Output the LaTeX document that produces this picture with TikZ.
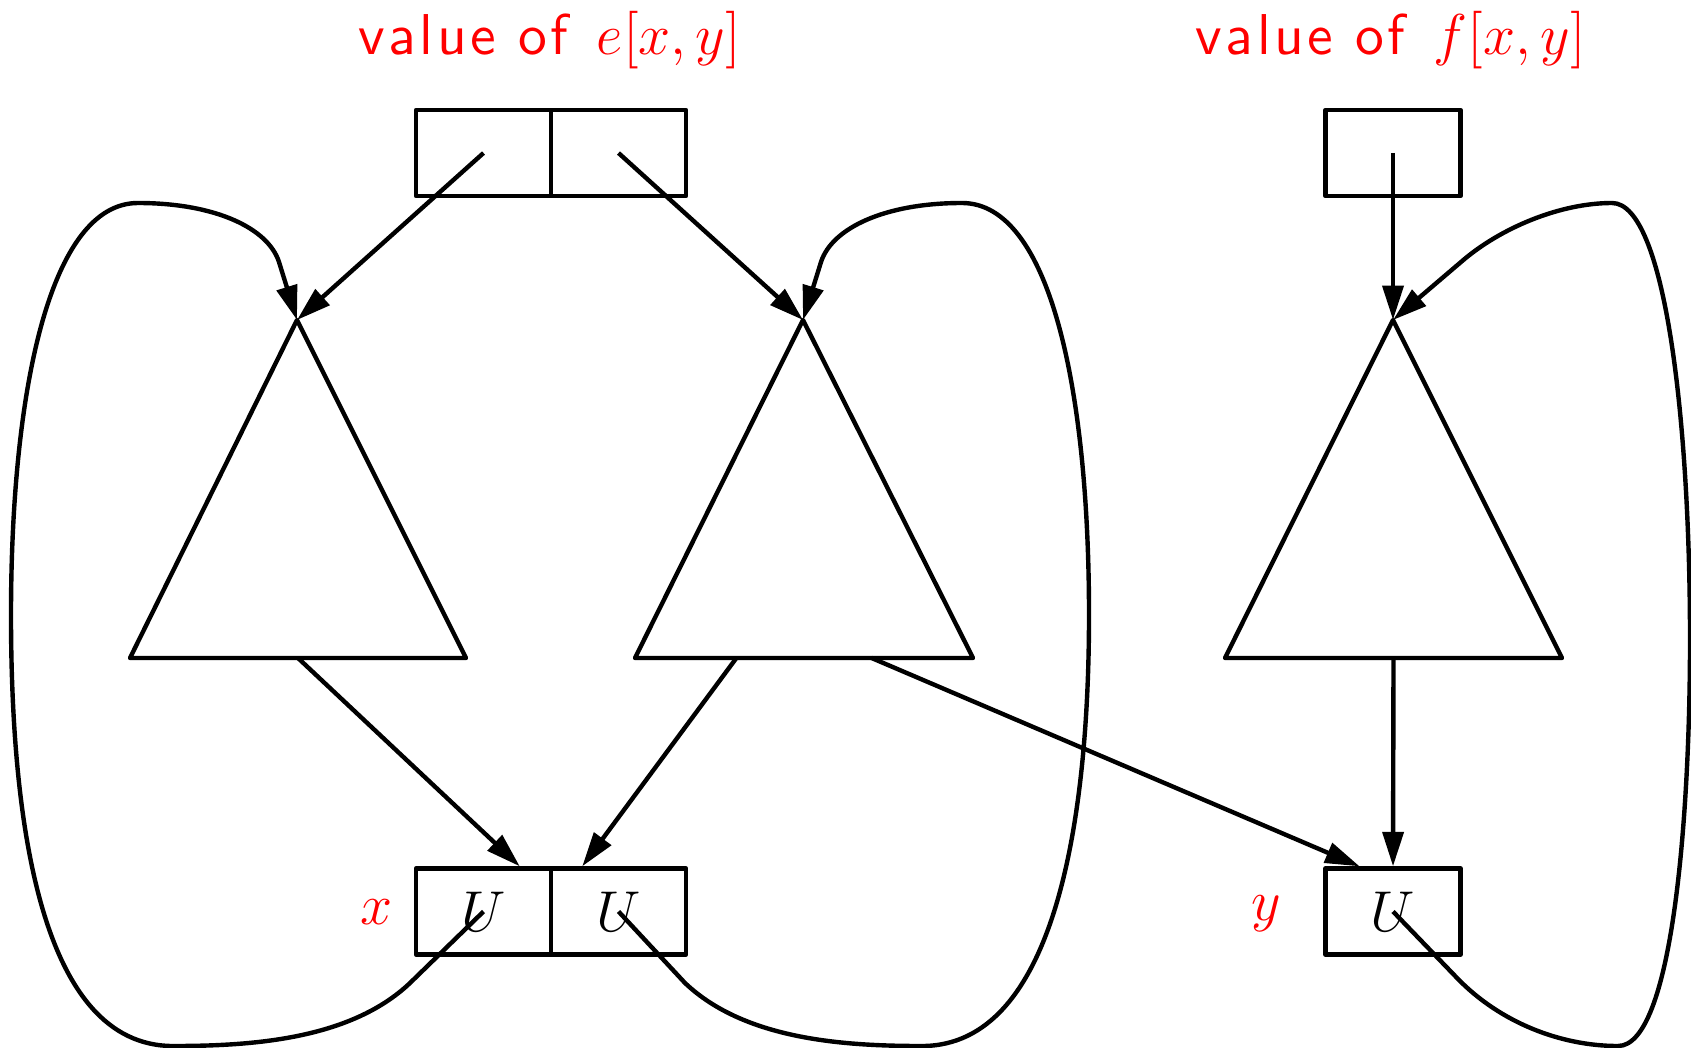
\documentclass[tikz,border=0pt]{standalone}
\usepackage{amsmath, amssymb}
\usepackage{fontspec}
\newfontfamily\valfont{lmsans10-regular.otf}[LetterSpace=6]
\usetikzlibrary{calc, arrows.meta}

\begin{document}
\begin{tikzpicture}[x=0.25pt, y=-0.25pt, line width=1.1pt, line join=round,
    cell/.style={draw, minimum width=33.75pt, minimum height=21.5pt, inner sep=0pt, font=\Large},
    arr/.style={-{Triangle[length=8.6pt, width=5.2pt]}},
    lbl/.style={text=red, font=\Large}]
  \useasboundingbox (0,0) rectangle (1691,1048);
  % cells
  \node[cell] (e1) at (483.5,153) {};
  \node[cell] (e2) at (618.5,153) {};
  \node[cell] (f1) at (1393,153) {};
  \node[cell] (x1) at (483.5,911.5) {$U$};
  \node[cell] (x2) at (618.5,911.5) {$U$};
  \node[cell] (y1) at (1393,911.5) {$U$};
  \node[lbl] (ve) at (550,40) {{\valfont value of}\ \,$e[x,y]$};
  \node[lbl] (vf) at (1391,40) {{\valfont value of}\ \,$f[x,y]$};
  \node[lbl] (lx) at (377,912) {$x$};
  \node[lbl] (ly) at (1266,914) {$y$};
  % triangles
  \coordinate (t1) at (297,320); \coordinate (t1l) at (130,658); \coordinate (t1r) at (466,658);
  \coordinate (t2) at (803,320); \coordinate (t2l) at (635,658); \coordinate (t2r) at (973,658);
  \coordinate (t3) at (1393,320); \coordinate (t3l) at (1225,658); \coordinate (t3r) at (1562,658);
  \draw (t1) -- (t1l) -- (t1r) -- cycle;
  \draw (t2) -- (t2l) -- (t2r) -- cycle;
  \draw (t3) -- (t3l) -- (t3r) -- cycle;
  % pointers
  \draw[arr] (e1.center) -- (t1);
  \draw[arr] (e2.center) -- (t2);
  \draw[arr] (f1.center) -- (t3);
  \draw[arr] ($(t1l)!0.5!(t1r)$) -- ($(x1.north west)!0.76!(x1.north east)$);
  \draw[arr] ($(t2l)!0.3!(t2r)$) -- ($(x2.north west)!0.24!(x2.north east)$);
  \draw[arr] ($(t2l)!0.7!(t2r)$) -- ($(y1.north west)!0.26!(y1.north east)$);
  \draw[arr] ($(t3l)!0.5!(t3r)$) -- (y1.north);
  % loops
  \draw[arr] (x1.center) -- (410,983) .. controls (350,1040) and (250,1046) .. (173,1046)
    .. controls (40,1046) and (11,820) .. (11,615) .. controls (11,390) and (50,203) .. (138,203)
    .. controls (215,203) and (268,228) .. (279,262) -- (t1);
  \draw[arr] (x2.center) -- (685,983) .. controls (745,1040) and (845,1046) .. (922,1046)
    .. controls (1055,1046) and (1089,820) .. (1089,615) .. controls (1089,390) and (1050,203) .. (962,203)
    .. controls (885,203) and (832,228) .. (821,262) -- (t2);
  \draw[arr] (y1.center) -- (1458,979) .. controls (1500,1022) and (1560,1046) .. (1618,1046)
    .. controls (1672,1046) and (1690,820) .. (1690,640) .. controls (1690,420) and (1665,203) .. (1612,203)
    .. controls (1560,203) and (1500,228) .. (1461,262) -- (t3);
\end{tikzpicture}
\end{document}
